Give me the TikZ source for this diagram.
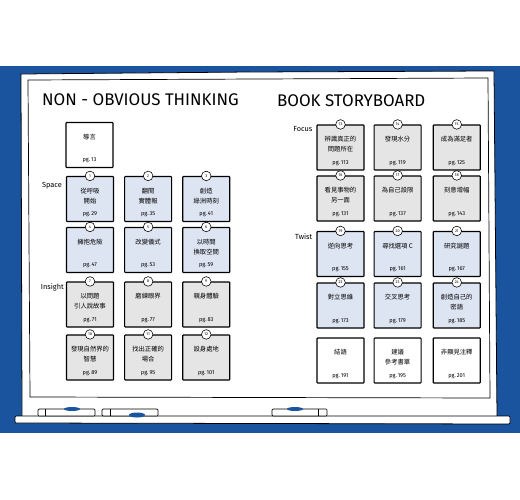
\documentclass[tikz,border=0pt]{standalone}
\usepackage{fontspec}
\setmainfont{Fira Sans}
\newfontfamily\cjk{Noto Sans CJK TC}
\usetikzlibrary{positioning}
\definecolor{Miazul}{RGB}{26,84,158}
\definecolor{Micelest}{RGB}{221,228,242}
\definecolor{Migris}{RGB}{229,229,229}

\begin{document}
\begin{tikzpicture}[x=0.5mm, y=-0.5mm,
    card/.style={rectangle, rounded corners=1pt,
                draw=black, line width=1.6pt, fill=white,
                minimum width=23.5mm, minimum height=22.5mm, inner sep=0pt},
    bcard/.style={card, fill=Micelest},
    gcard/.style={card, fill=Migris},
    ttl/.style={anchor=north, yshift=-6mm, inner sep=0pt, align=center,
                font=\cjk\fontsize{9}{14}\selectfont},
    pgl/.style={anchor=south, yshift=2.5mm, inner sep=0pt,
                font=\fontsize{8}{9}\selectfont},
    num/.style={circle, draw=black, line width=0.8pt, fill=white, anchor=center,
                minimum size=4.8mm, inner sep=0pt, font=\fontsize{5.5}{6}\selectfont},
    sec/.style={inner sep=0pt, anchor=north east, font=\fontsize{10.5}{12}\selectfont},
    titulo/.style={anchor=west, inner sep=0pt, font=\fontsize{24}{26}\selectfont},
    board/.style={draw=black, line width=1.1pt, fill=white},
    marker/.style={draw=black, line width=0.9pt, fill=white, rounded corners=1.5pt}]

  \useasboundingbox (0,0) rectangle (520,500);

  %--- Pizarra ---
  \fill[Miazul] (0,66) rectangle (520,433);
  \draw[board] (21,74) -- (250,72) -- (494,71) -- (497,417) -- (22,417) -- cycle;
  \draw[line width=1pt] (28,80) -- (260,79) -- (488,78) -- (490,398) -- (30,397) -- cycle;
  \draw[board, rounded corners=1.5pt] (15,416) -- (510,416) -- (510,424) -- (15,423) -- cycle;
  \draw[marker] (38,409) rectangle (95,416);
  \draw[line width=0.9pt] (45,409) -- (45,416);
  \fill[Miazul] (72,409) ellipse (8 and 2);
  \draw[marker] (102,409) rectangle (158,416);
  \draw[line width=0.9pt] (110,409) -- (110,416);
  \fill[Miazul] (137,415) ellipse (8 and 2.5);
  \draw[marker] (272,409) rectangle (327,416);
  \draw[line width=0.9pt] (318,409) -- (318,416);
  \fill[Miazul] (295,409) ellipse (8 and 2);

  %--- Titulos ---
  \node[titulo] (tizq) at (42,100) {NON - OBVIOUS THINKING};
  \node[titulo] (tder) at (277,101) {BOOK STORYBOARD};

  %--- Columna izquierda ---
  \node[card, label={[ttl]north:導言}, label={[pgl]south:pg.\,13}] (intro) at (89.5,145) {};

  \node[bcard, label={[num]north:1}, label={[ttl]north:從呼吸\\開始},
        label={[pgl]south:pg.\,29}] (c1) at (90,199) {};
  \node[bcard, right=5mm of c1, label={[num]north:2}, label={[ttl]north:翻閱\\實體報},
        label={[pgl]south:pg.\,35}] (c2) {};
  \node[bcard, right=5mm of c2, label={[num]north:3}, label={[ttl]north:創造\\綠洲時刻},
        label={[pgl]south:pg.\,41}] (c3) {};

  \node[bcard, label={[num]north:4}, label={[ttl]north:擁抱危險},
        label={[pgl]south:pg.\,47}] (c4) at (90,250) {};
  \node[bcard, right=5mm of c4, label={[num]north:5}, label={[ttl]north:改變儀式},
        label={[pgl]south:pg.\,53}] (c5) {};
  \node[bcard, right=5mm of c5, label={[num]north:6}, label={[ttl]north:以時間\\換取空間},
        label={[pgl]south:pg.\,59}] (c6) {};

  \node[gcard, label={[num]north:7}, label={[ttl]north:以問題\\引人說故事},
        label={[pgl]south:pg.\,71}] (c7) at (90,304.5) {};
  \node[gcard, right=5mm of c7, label={[num]north:8}, label={[ttl]north:磨練眼界},
        label={[pgl]south:pg.\,77}] (c8) {};
  \node[gcard, right=5mm of c8, label={[num]north:9}, label={[ttl]north:親身體驗},
        label={[pgl]south:pg.\,83}] (c9) {};

  \node[gcard, label={[num]north:10}, label={[ttl]north:發現自然界的\\智慧},
        label={[pgl]south:pg.\,89}] (c10) at (90,357.5) {};
  \node[gcard, right=5mm of c10, label={[num]north:11}, label={[ttl]north:找出正確的\\場合},
        label={[pgl]south:pg.\,95}] (c11) {};
  \node[gcard, right=5mm of c11, label={[num]north:12}, label={[ttl]north:設身處地},
        label={[pgl]south:pg.\,101}] (c12) {};

  \node[sec] (space) at ([xshift=-2mm, yshift=-3mm]c1.north west) {Space};
  \node[sec] (insight) at ([xshift=-1mm, yshift=-1mm]c7.north west) {Insight};

  %--- Columna derecha ---
  \node[gcard, label={[num]north:13}, label={[ttl]north:辨識真正的\\問題所在},
        label={[pgl]south:pg.\,113}] (c13) at (340.5,147.5) {};
  \node[gcard, right=4.5mm of c13, label={[num]north:14}, label={[ttl]north:發現水分},
        label={[pgl]south:pg.\,119}] (c14) {};
  \node[gcard, right=5.5mm of c14, label={[num]north:15}, label={[ttl]north:成為滿足者},
        label={[pgl]south:pg.\,125}] (c15) {};

  \node[gcard, label={[num]north:16}, label={[ttl]north:看見事物的\\另一面},
        label={[pgl]south:pg.\,131}] (c16) at (340.5,198.5) {};
  \node[gcard, right=4.5mm of c16, label={[num]north:17}, label={[ttl]north:為自己設限},
        label={[pgl]south:pg.\,137}] (c17) {};
  \node[gcard, right=5.5mm of c17, label={[num]north:18}, label={[ttl]north:刻意增幅},
        label={[pgl]south:pg.\,143}] (c18) {};

  \node[bcard, label={[num]north:19}, label={[ttl]north:逆向思考},
        label={[pgl]south:pg.\,155}] (c19) at (340.5,254) {};
  \node[bcard, right=4.5mm of c19, label={[num]north:20}, label={[ttl]north:尋找選項 C},
        label={[pgl]south:pg.\,161}] (c20) {};
  \node[bcard, right=5.5mm of c20, label={[num]north:21}, label={[ttl]north:研究謎題},
        label={[pgl]south:pg.\,167}] (c21) {};

  \node[bcard, label={[num]north:22}, label={[ttl]north:對立思維},
        label={[pgl]south:pg.\,173}] (c22) at (340.5,305.5) {};
  \node[bcard, right=4.5mm of c22, label={[num]north:23}, label={[ttl]north:交叉思考},
        label={[pgl]south:pg.\,179}] (c23) {};
  \node[bcard, right=5.5mm of c23, label={[num]north:24}, label={[ttl]north:創造自己的\\密語},
        label={[pgl]south:pg.\,185}] (c24) {};

  \node[card, label={[ttl]north:結語},
        label={[pgl]south:pg.\,191}] (fin1) at (340.5,360.5) {};
  \node[card, right=4.5mm of fin1, label={[ttl]north:建議\\參考書單},
        label={[pgl]south:pg.\,195}] (fin2) {};
  \node[card, right=5.5mm of fin2, label={[ttl]north:非顯見注釋},
        label={[pgl]south:pg.\,201}] (fin3) {};

  \node[sec] (focus) at ([xshift=-2mm, yshift=-1mm]c13.north west) {Focus};
  \node[sec] (twist) at ([xshift=-2mm, yshift=-1.5mm]c19.north west) {Twist};
\end{tikzpicture}
\end{document}
